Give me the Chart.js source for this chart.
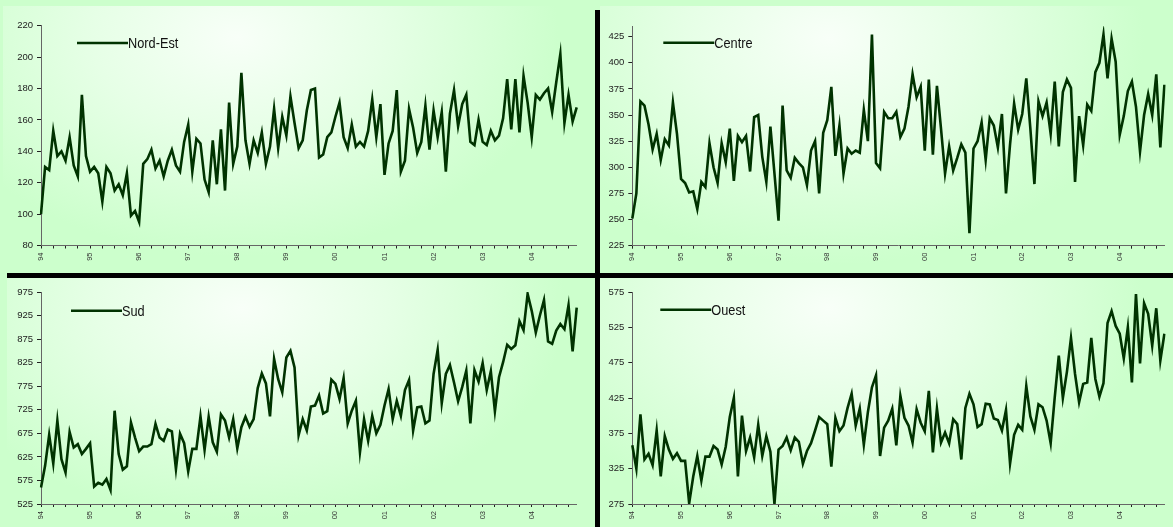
<!DOCTYPE html>
<html lang="fr">
<head>
<meta charset="UTF-8">
<title>Nord-Est / Centre / Sud / Ouest</title>
<script src="https://cdn.jsdelivr.net/npm/chart.js"></script>
<style>
  html, body { margin: 0; padding: 0; background: #ccffcc; }
  #wrap { position: relative; width: 1173px; height: 527px; overflow: hidden; background: #ccffcc; }
  .bg { position: absolute; background: radial-gradient(ellipse 55% 85% at 40% 12%, #f8fff8 0%, #e6ffe6 45%, #ccffcc 100%); }
  .bar { position: absolute; background: #000; }
  canvas { position: absolute; }
</style>
</head>
<body>
<div id="wrap">
  <div class="bg" style="left:3px;top:6px;width:585px;height:258px"></div>
  <div class="bg" style="left:600px;top:6px;width:573px;height:267px"></div>
  <div class="bg" style="left:7px;top:278px;width:588px;height:249px"></div>
  <div class="bg" style="left:600px;top:278px;width:573px;height:249px"></div>
  <div class="bar" style="left:595px;top:10px;width:5px;height:517px"></div>
  <div class="bar" style="left:7px;top:273px;width:1166px;height:5px"></div>
  <canvas id="cNE" width="588" height="264" style="left:0;top:0"></canvas>
  <canvas id="cCE" width="573" height="264" style="left:600px;top:0"></canvas>
  <canvas id="cSU" width="588" height="263" style="left:0;top:264px"></canvas>
  <canvas id="cOU" width="573" height="263" style="left:600px;top:264px"></canvas>
</div>
<script>
// years shown on the x axis (monthly data, Jan 94 - Dec 04)
var yearLabels = ['94', '95', '96', '97', '98', '99', '00', '01', '02', '03', '04'];
var months = [];
yearLabels.forEach(function (y) {
    for (var m = 1; m <= 12; m++) months.push(y + '-' + (m < 10 ? '0' + m : m));
});

var nordEst = [100, 130, 128, 153, 137, 140, 134, 149, 131, 124, 176, 137,
    127, 130, 126, 108, 130, 126, 115, 119, 112, 126, 99, 102,
    95, 132, 135, 141, 129, 134, 124, 134, 141, 131, 127, 146,
    157, 127, 148, 145, 122, 114, 147, 119, 154, 115, 171, 132,
    143, 190, 147, 132, 147, 139, 152, 132, 143, 167, 142, 162,
    150, 175, 158, 142, 147, 166, 179, 180, 136, 138, 149, 152,
    162, 171, 149, 142, 157, 143, 146, 143, 153, 173, 149, 170,
    125, 145, 153, 179, 127, 134, 167, 155, 139, 146, 169, 141,
    166, 149, 165, 127, 164, 179, 156, 170, 176, 146, 144, 160,
    146, 144, 153, 147, 150, 161, 186, 154, 186, 152, 188, 171,
    149, 176, 173, 177, 180, 165, 184, 202, 158, 176, 159, 168];

var centre = [251, 275, 363, 359, 341, 317, 332, 307, 327, 321, 362, 332,
    289, 285, 276, 277, 260, 286, 281, 323, 300, 285, 323, 305,
    337, 287, 330, 324, 330, 296, 348, 350, 310, 286, 339, 294,
    249, 359, 297, 290, 309, 304, 300, 283, 316, 325, 275, 333,
    345, 377, 311, 340, 294, 318, 313, 316, 314, 355, 325, 427,
    304, 299, 353, 347, 347, 353, 329, 337, 358, 389, 367, 377,
    316, 384, 312, 378, 337, 294, 320, 297, 309, 322, 314, 237,
    318, 325, 343, 307, 347, 340, 319, 351, 275, 322, 361, 336,
    351, 385, 337, 284, 363, 349, 362, 332, 382, 320, 372, 384,
    376, 286, 349, 321, 360, 354, 391, 400, 427, 385, 423, 401,
    331, 349, 373, 382, 358, 315, 350, 370, 350, 389, 319, 379];

var sud = [560, 606, 672, 611, 702, 620, 592, 678, 645, 652, 631, 642,
    654, 562, 570, 566, 578, 555, 723, 631, 598, 605, 698, 666,
    637, 647, 647, 652, 695, 666, 659, 683, 679, 599, 674, 654,
    594, 642, 642, 711, 640, 710, 656, 636, 715, 702, 666, 705,
    643, 688, 710, 689, 705, 771, 802, 781, 711, 833, 790, 762,
    836, 850, 815, 671, 705, 681, 732, 734, 755, 717, 722, 789,
    780, 748, 792, 696, 723, 744, 635, 705, 659, 712, 675, 693,
    734, 769, 705, 744, 712, 767, 788, 681, 730, 732, 696, 702,
    801, 852, 739, 801, 820, 783, 743, 773, 808, 696, 809, 785,
    824, 767, 807, 722, 794, 826, 863, 854, 862, 913, 894, 971,
    935, 889, 925, 958, 870, 865, 893, 907, 896, 947, 849, 942];

var ouest = [358, 325, 402, 338, 346, 330, 379, 314, 371, 352, 339, 347,
    336, 336, 276, 314, 343, 308, 342, 342, 357, 352, 331, 356,
    398, 425, 314, 400, 350, 369, 341, 387, 343, 371, 349, 275,
    352, 357, 369, 351, 369, 363, 332, 350, 361, 379, 398, 393,
    388, 328, 397, 378, 386, 411, 431, 386, 410, 359, 405, 440,
    457, 343, 383, 393, 410, 358, 428, 397, 386, 362, 409, 390,
    378, 435, 348, 410, 362, 376, 361, 395, 388, 338, 411, 431,
    416, 384, 388, 417, 416, 396, 394, 379, 408, 332, 373, 387,
    380, 442, 399, 380, 416, 412, 393, 361, 426, 485, 425, 462,
    510, 459, 419, 445, 447, 510, 452, 427, 446, 531, 548, 527,
    516, 481, 525, 447, 572, 474, 559, 544, 499, 552, 478, 516];

// y tick labels for each panel
var ticksNE = [80, 100, 120, 140, 160, 180, 200, 220];
var ticksCE = [225, 250, 275, 300, 325, 350, 375, 400, 425];
var ticksSU = [525, 575, 625, 675, 725, 775, 825, 875, 925, 975];
var ticksOU = [275, 325, 375, 425, 475, 525, 575];

var lineColor = '#003300';
var fontFam = "'Liberation Sans', Arial, sans-serif";

// legend drawn inside the plot, top left: a line sample then the name
var insideLegend = {
    id: 'insideLegend',
    afterDatasetsDraw: function (chart, args, opts) {
        var ctx = chart.ctx, area = chart.chartArea;
        var ds = chart.data.datasets[0];
        var x = area.left + opts.dx, y = area.top + opts.dy;
        ctx.save();
        ctx.strokeStyle = ds.borderColor;
        ctx.lineWidth = 2.5;
        ctx.beginPath();
        ctx.moveTo(x, y);
        ctx.lineTo(x + 51, y);
        ctx.stroke();
        ctx.translate(x + 51, y);
        ctx.scale(0.85, 1);
        ctx.font = '15px ' + fontFam;
        ctx.fillStyle = '#111';
        ctx.textBaseline = 'middle';
        ctx.fillText(ds.label, 0, 1);
        ctx.restore();
    }
};

function makeChart(id, label, data, yTicks, ymin, ymax, yW, xH, pad, leg) {
    var ctx = document.getElementById(id).getContext('2d');
    return new Chart(ctx, {
        type: 'line',
        data: {
            labels: months,
            datasets: [{
                label: label,
                data: data,
                borderColor: lineColor,
                borderWidth: 2.6,
                pointRadius: 0,
                tension: 0,
                fill: false
            }]
        },
        options: {
            responsive: false,
            animation: false,
            layout: { padding: pad },
            plugins: {
                legend: { display: false },
                tooltip: { enabled: false },
                insideLegend: leg
            },
            scales: {
                x: {
                    grid: { drawOnChartArea: false, tickLength: 3, color: '#222' },
                    border: { color: '#666' },
                    afterBuildTicks: function (scale) {
                        scale.ticks = scale.ticks.filter(function (t) { return t.value % 3 === 0; });
                    },
                    afterFit: function (scale) { scale.height = xH; },
                    ticks: {
                        autoSkip: false,
                        minRotation: 90,
                        maxRotation: 90,
                        padding: 4,
                        color: '#333',
                        font: { family: fontFam, size: 7.5 },
                        callback: function (value) {
                            return value % 12 === 0 ? yearLabels[value / 12] : '';
                        }
                    }
                },
                y: {
                    min: ymin,
                    max: ymax,
                    grid: { drawOnChartArea: false, tickLength: 4, color: '#222' },
                    border: { color: '#666' },
                    afterBuildTicks: function (scale) {
                        scale.ticks = yTicks.map(function (v) { return { value: v }; });
                    },
                    afterFit: function (scale) { scale.width = yW; },
                    ticks: {
                        padding: 4,
                        color: '#222',
                        font: { family: fontFam, size: 9.5 }
                    }
                }
            }
        },
        plugins: [insideLegend]
    });
}

makeChart('cNE', 'Nord-Est', nordEst, ticksNE, 80, 220, 41, 18.5,
    { top: 25.7, right: 11.3, left: 0, bottom: 0 }, { dx: 36, dy: 17.3 });
makeChart('cCE', 'Centre', centre, ticksCE, 225, 435, 32.3, 18.3,
    { top: 26.2, right: 8.6, left: 0, bottom: 0 }, { dx: 31, dy: 16.5 });
makeChart('cSU', 'Sud', sud, ticksSU, 525, 975, 41, 23,
    { top: 28, right: 11.3, left: 0, bottom: 0 }, { dx: 30, dy: 18.7 });
makeChart('cOU', 'Ouest', ouest, ticksOU, 275, 575, 32.3, 23,
    { top: 28, right: 8.6, left: 0, bottom: 0 }, { dx: 28, dy: 17.7 });
</script>
</body>
</html>
